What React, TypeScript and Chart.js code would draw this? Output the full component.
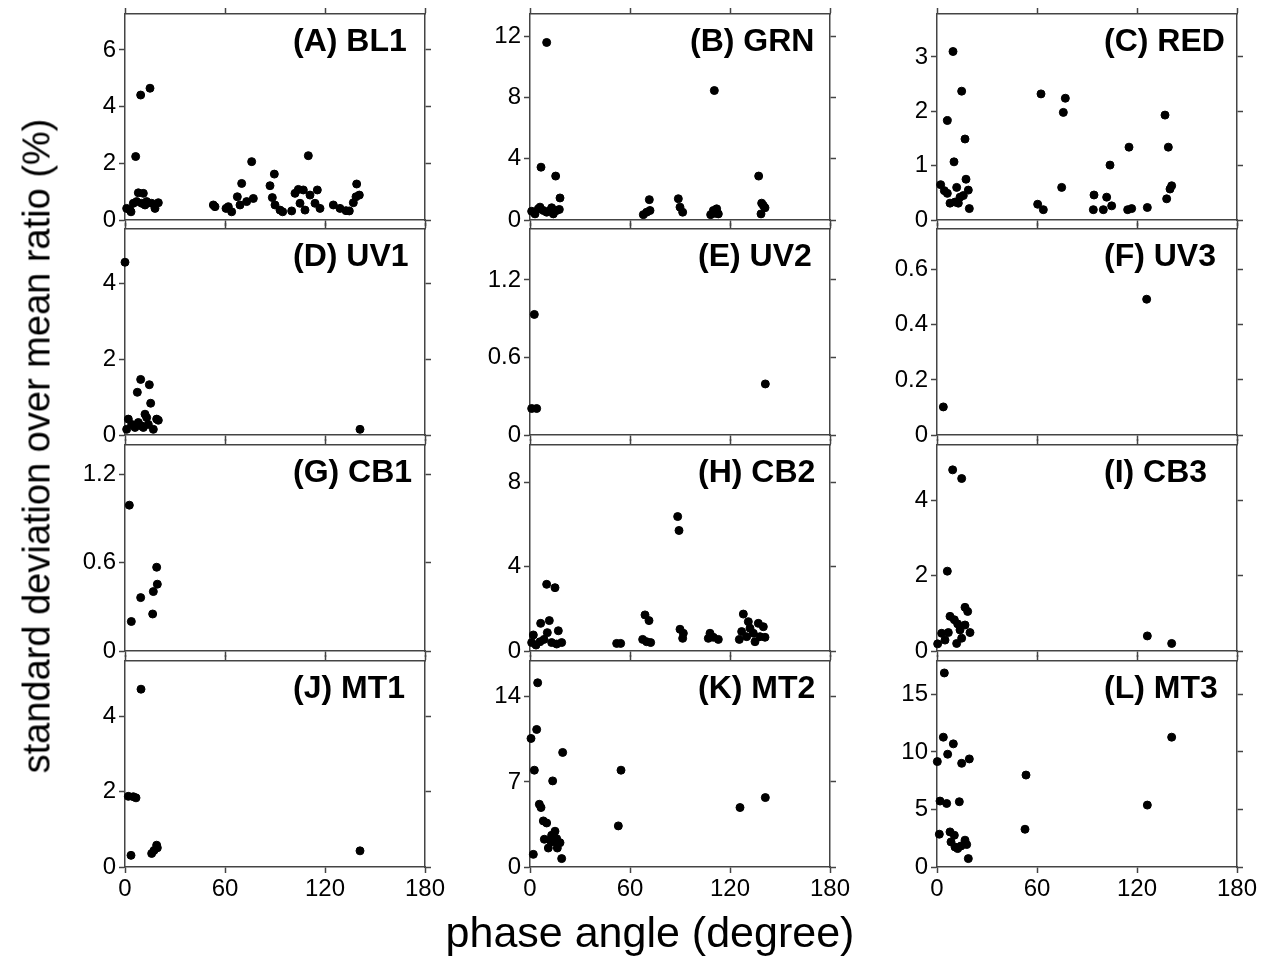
import React, { useEffect, useRef } from 'react';
import { Chart, registerables } from 'chart.js';

Chart.register(...registerables);

// ---------- data: [phase angle (deg), std/mean ratio (%)] ----------
const bl1: [number, number][] = [
  [1, 0.41], [3, 0.35], [3.6, 0.29], [5, 0.59], [6.4, 2.24], [7, 0.65], [8, 0.96], [9.4, 4.41], [10, 0.59], [11, 0.94],
  [12, 0.53], [13, 0.65], [15, 4.65], [16, 0.59], [18, 0.41], [20, 0.61], [53, 0.53], [54, 0.47], [60.6, 0.41], [62, 0.47],
  [64, 0.29], [67.4, 0.82], [69, 0.53], [70, 1.29], [73, 0.65], [76, 2.06], [77, 0.76], [87, 1.21], [88.4, 0.79], [89.6, 1.62],
  [90, 0.53], [93, 0.35], [94.6, 0.29], [100, 0.32], [102, 0.94], [104, 1.08], [105, 0.59], [107, 1.06], [108, 0.35], [110, 2.27],
  [111, 0.88], [114, 0.59], [115.4, 1.06], [117, 0.41], [125, 0.53], [129, 0.41], [132.6, 0.33], [134.6, 0.32], [137, 0.61],
  [138.6, 0.82], [139, 1.27], [140.6, 0.88],
];
const grn: [number, number][] = [
  [1, 0.57], [3, 0.4], [5, 0.73], [6, 0.84], [6.6, 3.45], [8, 0.62], [10, 0.51], [10, 11.6], [12, 0.62], [13, 0.8],
  [14, 0.4], [15.4, 2.87], [16, 0.62], [17.6, 0.69], [18, 1.44], [68, 0.35], [70, 0.51], [71.6, 1.33], [72, 0.62], [89, 1.39],
  [90, 0.84], [91.6, 0.51], [108.4, 0.35], [110, 0.62], [110.6, 8.46], [111, 0.44], [112, 0.73], [113, 0.4], [137.2, 2.87],
  [138.6, 0.4], [139, 1.1], [140, 0.95], [141, 0.8],
];
const red: [number, number][] = [
  [2.2, 0.65], [4.4, 0.54], [6.2, 1.83], [6.2, 0.49], [7.8, 0.31], [9.6, 3.1], [10.2, 1.07], [10.8, 0.33], [11.8, 0.6], [12.8, 0.31],
  [13.8, 0.42], [14.8, 2.37], [15.8, 0.45], [16.8, 1.49], [17.4, 0.75], [18.8, 0.55], [19.4, 0.21], [60.4, 0.29], [62.4, 2.32],
  [63.8, 0.19], [74.8, 0.6], [75.8, 1.98], [77, 2.24], [93.8, 0.19], [94.2, 0.46], [99.8, 0.19], [101.8, 0.42], [103.8, 1.01],
  [104.8, 0.26], [114.4, 0.19], [115.2, 1.34], [116.8, 0.21], [126.2, 0.23], [136.8, 1.93], [137.8, 0.39], [138.8, 1.34],
  [139.8, 0.57], [140.8, 0.63],
];
const uv1: [number, number][] = [
  [0, 4.57], [1, 0.15], [2, 0.42], [4, 0.28], [6, 0.2], [7.4, 1.13], [8, 0.33], [9.4, 1.47], [10, 0.24], [11, 0.2],
  [12, 0.55], [13, 0.46], [14, 0.28], [14.6, 1.33], [15.4, 0.84], [17, 0.15], [19, 0.42], [20, 0.39], [141, 0.15],
];
const uv2: [number, number][] = [[1, 0.205], [2.6, 0.933], [4, 0.205], [141.2, 0.395]];
const uv3: [number, number][] = [[3.8, 0.102], [125.8, 0.493]];
const cb1: [number, number][] = [[2.6, 0.989], [3.8, 0.2], [9.4, 0.362], [16.6, 0.251], [17, 0.403], [19, 0.568], [19.4, 0.453]];
const cb2: [number, number][] = [
  [1, 0.4], [2, 0.76], [3.6, 0.28], [6, 0.44], [6.4, 1.31], [8.4, 0.55], [10, 3.16], [10.4, 0.87], [11.6, 1.44], [13, 0.4],
  [15, 3.0], [16, 0.33], [17, 0.96], [19, 0.4], [52, 0.36], [54.4, 0.36], [67.6, 0.55], [69, 1.71], [70, 0.44], [71.4, 1.44],
  [72.4, 0.4], [88.6, 6.37], [89.4, 5.71], [90, 1.03], [91.6, 0.6], [92, 0.84], [107, 0.6], [108, 0.84], [110, 0.65], [113, 0.55],
  [125.6, 0.55], [127, 0.92], [128, 1.75], [130, 0.68], [131, 1.39], [132, 1.08], [134, 0.84], [135, 0.44], [137, 1.31],
  [138, 0.68], [140, 1.15], [141, 0.65],
];
const cb3: [number, number][] = [
  [0.4, 0.19], [2.8, 0.47], [4.8, 0.29], [6.2, 2.12], [6.8, 0.49], [7.8, 0.92], [9.4, 4.81], [10.4, 0.83], [11.8, 0.2], [12.4, 0.72],
  [13.8, 0.56], [14.8, 4.58], [14.8, 0.34], [16.8, 0.69], [16.8, 1.16], [18.4, 1.05], [19.8, 0.49], [126.2, 0.4], [140.8, 0.2],
];
const mt1: [number, number][] = [
  [2, 1.88], [3.6, 0.31], [5, 1.87], [6.6, 1.84], [9.6, 4.73], [16, 0.36], [17.4, 0.44], [19, 0.58], [19.4, 0.51], [141, 0.43],
];
const mt2: [number, number][] = [
  [0.6, 10.57], [2, 1.04], [2.6, 7.96], [4, 11.31], [4.6, 15.15], [5.6, 5.16], [6.6, 4.89], [8, 3.79], [8.6, 2.28], [10, 3.62],
  [11, 1.56], [12, 2.2], [13, 2.61], [13.6, 7.08], [14, 2.06], [15, 2.94], [16, 2.33], [16.4, 1.56], [18, 2.0], [19, 0.69],
  [19.6, 9.42], [53, 3.38], [54.6, 7.96], [126, 4.89], [141.2, 5.71],
];
const mt3: [number, number][] = [
  [0.2, 9.16], [1.4, 2.85], [1.8, 5.73], [3.8, 11.28], [4.4, 16.86], [5.8, 5.52], [6.4, 9.8], [7.8, 3.05], [8.4, 2.18], [9.8, 10.7],
  [10.4, 2.76], [10.8, 1.74], [12.4, 1.6], [13.4, 5.67], [14.4, 1.83], [14.8, 9.01], [16.8, 2.33], [17.8, 1.95], [18.8, 0.73],
  [19.4, 9.39], [52.8, 3.28], [53.4, 7.99], [126.2, 5.38], [140.8, 11.28],
];

// ---------- axes ----------
const xTicks = [0, 60, 120, 180];
const xRange = [0, 180];

const panelNames = ['(A) BL1', '(B) GRN', '(C) RED', '(D) UV1', '(E) UV2', '(F) UV3', '(G) CB1', '(H) CB2', '(I) CB3', '(J) MT1', '(K) MT2', '(L) MT3'];
const panelData = [bl1, grn, red, uv1, uv2, uv3, cb1, cb2, cb3, mt1, mt2, mt3];
const yMaxes = [7.27, 13.46, 3.79, 5.45, 1.594, 0.748, 1.397, 9.76, 5.47, 5.48, 16.94, 17.9];
const yTickLists = [
  [0, 2, 4, 6], [0, 4, 8, 12], [0, 1, 2, 3],
  [0, 2, 4], [0, 0.6, 1.2], [0, 0.2, 0.4, 0.6],
  [0, 0.6, 1.2], [0, 4, 8], [0, 2, 4],
  [0, 2, 4], [0, 7, 14], [0, 5, 10, 15],
];

// ---------- layout / style ----------
const FONT = '"Liberation Sans", Arial, Helvetica, sans-serif';
const AXIS_COLOR = '#444';
const colLeft = [125, 530, 937];
const rowTop = [14, 229, 445, 661];
const PLOT_W = 300;
const PLOT_H = 206;
const LEFT_AX = 70;
const RIGHT_AX = 30;
const TOP_AX = 20;
const labelOffsets = [168, 160, 167, 168, 168, 167, 168, 168, 167, 168, 168, 167];

function axis(kind: 'x' | 'y', position: string, min: number, max: number, ticks: number[], showLabels: boolean, size: number) {
  return {
    type: 'linear',
    axis: kind,
    position,
    min,
    max,
    afterBuildTicks: (s: any) => {
      s.ticks = ticks.map((v) => ({ value: v }));
    },
    afterFit: (s: any) => {
      if (kind === 'x') s.height = size;
      else s.width = size;
    },
    grid: { drawOnChartArea: false, drawTicks: true, tickLength: 6, tickColor: AXIS_COLOR, tickWidth: 1.5 },
    border: { display: true, color: AXIS_COLOR, width: 1.5 },
    ticks: {
      display: showLabels,
      autoSkip: false,
      maxRotation: 0,
      padding: kind === 'x' ? 2 : 3,
      color: '#000',
      font: { family: FONT, size: 24 },
      callback: (v: any) => String(v),
    },
  };
}

function Panel({ idx }: { idx: number }) {
  const ref = useRef<HTMLCanvasElement | null>(null);
  const row = Math.floor(idx / 3);
  const col = idx % 3;
  const bottomAx = row === 3 ? 45 : 20;
  const W = LEFT_AX + PLOT_W + RIGHT_AX;
  const H = TOP_AX + PLOT_H + bottomAx;

  useEffect(() => {
    if (!ref.current) return;
    const pts = panelData[idx].map(([x, y]) => ({ x, y }));
    const yt = yTickLists[idx];
    const chart = new Chart(ref.current, {
      type: 'scatter',
      data: {
        datasets: [
          {
            data: pts,
            backgroundColor: '#000',
            borderColor: '#000',
            borderWidth: 1,
            pointRadius: 4,
            clip: false,
            xAxisID: 'x',
            yAxisID: 'y',
          } as any,
        ],
      },
      options: {
        animation: false,
        responsive: false,
        devicePixelRatio: 1,
        layout: { padding: 0 },
        plugins: { legend: { display: false }, tooltip: { enabled: false }, title: { display: false } },
        scales: {
          x: axis('x', 'bottom', xRange[0], xRange[1], xTicks, row === 3, bottomAx),
          x2: axis('x', 'top', xRange[0], xRange[1], xTicks, false, TOP_AX),
          y: axis('y', 'left', 0, yMaxes[idx], yt, true, LEFT_AX),
          y2: axis('y', 'right', 0, yMaxes[idx], yt, false, RIGHT_AX),
        } as any,
      },
    });
    return () => chart.destroy();
  }, [idx]);

  return (
    <>
      <canvas
        ref={ref}
        width={W}
        height={H}
        style={{ position: 'absolute', left: colLeft[col] - LEFT_AX, top: rowTop[row] - TOP_AX, width: W, height: H }}
      />
      <div
        style={{
          position: 'absolute',
          left: colLeft[col] + labelOffsets[idx],
          top: rowTop[row] + 10,
          fontFamily: FONT,
          fontWeight: 'bold',
          fontSize: 32,
          lineHeight: 1,
          whiteSpace: 'nowrap',
          color: '#000',
        }}
      >
        {panelNames[idx]}
      </div>
    </>
  );
}

export default function App() {
  return (
    <div style={{ position: 'absolute', left: 0, top: 0, width: 1282, height: 970, background: '#fff', overflow: 'hidden' }}>
      {panelNames.map((_, i) => (
        <Panel key={i} idx={i} />
      ))}
      <div
        style={{
          position: 'absolute',
          left: 37,
          top: 446,
          transform: 'translate(-50%, -50%) rotate(-90deg)',
          fontFamily: FONT,
          fontSize: 38,
          whiteSpace: 'nowrap',
          color: '#000',
        }}
      >
        standard deviation over mean ratio (%)
      </div>
      <div
        style={{
          position: 'absolute',
          left: 650,
          top: 911,
          transform: 'translateX(-50%)',
          fontFamily: FONT,
          fontSize: 43,
          lineHeight: 1,
          whiteSpace: 'nowrap',
          color: '#000',
        }}
      >
        phase angle (degree)
      </div>
    </div>
  );
}
